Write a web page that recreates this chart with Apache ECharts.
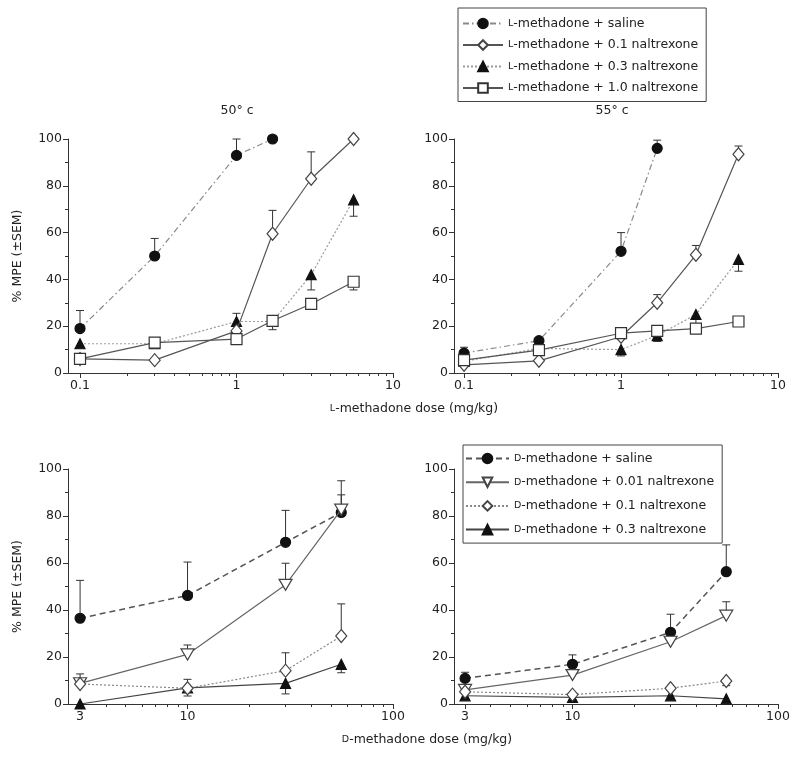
<!DOCTYPE html>
<html><head><meta charset="utf-8">
<script src="https://cdn.jsdelivr.net/npm/echarts@6/dist/echarts.min.js"></script>
<style>html,body{margin:0;padding:0;background:#fff}#c{width:800px;height:757px}</style>
</head><body><div id="c"></div>
<script>
// ---------- data ----------
const lDoses = [0.1, 0.3, 1, 1.7, 3, 5.6];
const dDoses = [3, 10, 30, 56];
const lTicks = [0.1, 1, 10];
const lMinorTicks = [0.2, 0.3, 0.4, 0.5, 0.6, 0.7, 0.8, 0.9, 2, 3, 4, 5, 6, 7, 8, 9];
const dTicks = [3, 10, 100];
const dMinorTicks = [4, 5, 6, 7, 8, 9, 20, 30, 40, 50, 60, 70, 80, 90];

const lNames = ['L-methadone + saline', 'L-methadone + 0.1 naltrexone', 'L-methadone + 0.3 naltrexone', 'L-methadone + 1.0 naltrexone'];
const dNames = ['D-methadone + saline', 'D-methadone + 0.01 naltrexone', 'D-methadone + 0.1 naltrexone', 'D-methadone + 0.3 naltrexone'];

// 50 °C (top left)
const l50Saline    = [19, 50, 93, 100];
const l50SalineErr = [26.7, 57.5, 100, null];
const l50Nal01     = [6, 5.5, 18, 59.5, 83, 100];
const l50Nal01Err  = [null, null, null, 69.5, 94.5, null];
const l50Nal03     = [12.5, 12.5, 22, 22, 42, 74];
const l50Nal03Err  = [null, null, 25.5, null, 35.5, 67];
const l50Nal10     = [6, 13, 14.5, 22.3, 29.5, 39];
const l50Nal10Err  = [null, 11, 12.5, 18.5, null, 35.5];

// 55 °C (top right)
const l55Saline    = [8.5, 13.8, 52, 96];
const l55SalineErr = [11, null, 60, 99.5];
const l55Nal01     = [3.5, 5.2, 15.5, 30, 50.5, 93.5];
const l55Nal01Err  = [null, null, null, 33.5, 54.5, 97];
const l55Nal03     = [5, 10.5, 10, 16, 25, 48.5];
const l55Nal03Err  = [null, null, 7.3, 13.5, 20, 43.5];
const l55Nal10     = [5.5, 9.8, 17, 18, 19, 22];
const l55Nal10Err  = [null, null, null, null, null, null];

// D-methadone, bottom left
const dASaline    = [36.5, 46.2, 68.8, 81.5];
const dASalineErr = [52.6, 60.4, 82.4, 89];
const dANal001    = [8.8, 21.1, 50.7, 82.7];
const dANal001Err = [12.8, 25.1, 59.9, 95];
const dANal01     = [8.5, 6.7, 14.2, 28.9];
const dANal01Err  = [null, 10.5, 21.8, 42.6];
const dANal03     = [0, 6.9, 8.8, 16.9];
const dANal03Err  = [null, 3.4, 4.3, 13.3];

// D-methadone, bottom right
const dBSaline    = [10.9, 16.9, 30.5, 56.3];
const dBSalineErr = [13.5, 20.9, 38.2, 67.7];
const dBNal001    = [6, 12.3, 26.5, 37.6];
const dBNal001Err = [7.4, null, null, 43.5];
const dBNal01     = [5.2, 4, 6.7, 9.8];
const dBNal01Err  = [null, null, null, 7.8];
const dBNal03     = [3.5, 2.8, 3.5, 2.2];
const dBNal03Err  = [null, null, null, null];

// ---------- styles ----------
const FONT = 'DejaVu Sans';
const TXT = '#222';
const lStyles = [
  {symbol: 'circle', symbolSize: 10, fill: '#111', border: '#111', line: '#8a8a8a', type: [6, 3, 1.5, 3], width: 1.2},
  {symbol: 'diamond', symbolSize: [11, 13], fill: '#fff', border: '#444', line: '#555', type: 'solid', width: 1.2},
  {symbol: 'triangle', symbolSize: 10, fill: '#111', border: '#111', line: '#9a9a9a', type: [2, 2], width: 1.2},
  {symbol: 'rect', symbolSize: 11, fill: '#fff', border: '#333', line: '#555', type: 'solid', width: 1.2}
];
const dStyles = [
  {symbol: 'circle', symbolSize: 10, fill: '#111', border: '#111', line: '#555', type: [6, 4], width: 1.5},
  {symbol: 'triangle', symbolSize: [13, 11], rotate: 180, fill: '#fff', border: '#444', line: '#666', type: 'solid', width: 1.2},
  {symbol: 'diamond', symbolSize: [11, 13], fill: '#fff', border: '#444', line: '#888', type: [2, 2], width: 1.2},
  {symbol: 'triangle', symbolSize: 10, fill: '#111', border: '#111', line: '#444', type: 'solid', width: 1.2}
];

const grids = [
  {left: 68, top: 139, width: 325, height: 234},
  {left: 454, top: 139, width: 324, height: 234},
  {left: 68, top: 469, width: 325, height: 235},
  {left: 454, top: 469, width: 324, height: 235}
];
const xMin = [0.0838, 0.0863, 2.62, 2.65];
const xMax = [10, 10, 100, 100];

function fmt(v) { return String(+(+v).toPrecision(3)); }

const xAxes = [], yAxes = [];
grids.forEach((g, gi) => {
  const top = gi < 2;
  xAxes.push({
    type: 'log', logBase: 10, gridIndex: gi, position: 'bottom', min: xMin[gi], max: xMax[gi],
    axisLine: {show: true, onZero: false, lineStyle: {color: '#333', width: 1}},
    axisTick: {show: true, length: 5, inside: false, customValues: top ? lTicks : dTicks, lineStyle: {color: '#333'}},
    axisLabel: {show: true, customValues: top ? lTicks : dTicks, formatter: fmt, fontSize: 12.5, fontFamily: FONT, color: TXT, margin: 6},
    splitLine: {show: false}, minorTick: {show: false}, minorSplitLine: {show: false}
  });
  xAxes.push({
    type: 'log', logBase: 10, gridIndex: gi, position: 'bottom', min: xMin[gi], max: xMax[gi],
    axisLine: {show: false, onZero: false},
    axisTick: {show: true, length: 3, customValues: top ? lMinorTicks : dMinorTicks, lineStyle: {color: '#333'}},
    axisLabel: {show: false},
    splitLine: {show: false}
  });
  const left = gi % 2 === 0;
  yAxes.push({
    type: 'value', gridIndex: gi, min: 0, max: 100, interval: 20,
    name: left ? '% MPE (±SEM)' : '', nameLocation: 'middle', nameGap: 44, nameRotate: 90,
    nameTextStyle: {fontSize: 12.5, fontFamily: FONT, color: TXT},
    axisLine: {show: true, lineStyle: {color: '#333', width: 1}},
    axisTick: {show: true, length: 5, lineStyle: {color: '#333'}},
    minorTick: {show: true, splitNumber: 2, length: 3, lineStyle: {color: '#333'}},
    axisLabel: {fontSize: 12.5, fontFamily: FONT, color: TXT, margin: 6},
    splitLine: {show: false}, minorSplitLine: {show: false}
  });
});

function errRender(params, api) {
  const x = api.value(0), v = api.value(1), e = api.value(2);
  const p0 = api.coord([x, v]), p1 = api.coord([x, e]);
  const cap = 4;
  return {type: 'group', children: [
    {type: 'line', shape: {x1: p0[0], y1: p0[1], x2: p1[0], y2: p1[1]}, style: {stroke: '#333', lineWidth: 1}},
    {type: 'line', shape: {x1: p1[0] - cap, y1: p1[1], x2: p1[0] + cap, y2: p1[1]}, style: {stroke: '#333', lineWidth: 1}}
  ]};
}

const series = [];
function addSeries(gi, name, st, doses, vals, errs) {
  const xi = gi * 2, yi = gi;
  const errData = [];
  vals.forEach((v, i) => { if (errs[i] != null) errData.push([doses[i], v, errs[i]]); });
  if (errData.length) {
    series.push({
      type: 'custom', name: name + ' SEM', xAxisIndex: xi, yAxisIndex: yi, z: 1, silent: true,
      renderItem: errRender, encode: {x: 0, y: [1, 2]}, data: errData, clip: false
    });
  }
  series.push({
    type: 'line', name: name, xAxisIndex: xi, yAxisIndex: yi, z: 3 + (st.fill === '#fff' ? 1 : 0),
    data: vals.map((v, i) => [doses[i], v]),
    symbol: st.symbol, symbolSize: st.symbolSize, symbolRotate: st.rotate || 0, showAllSymbol: true,
    itemStyle: {color: st.fill, borderColor: st.border, borderWidth: 1.2},
    lineStyle: {color: st.line, type: st.type, width: st.width},
    clip: false, silent: true
  });
}

addSeries(0, lNames[0], lStyles[0], lDoses, l50Saline, l50SalineErr);
addSeries(0, lNames[1], lStyles[1], lDoses, l50Nal01, l50Nal01Err);
addSeries(0, lNames[2], lStyles[2], lDoses, l50Nal03, l50Nal03Err);
addSeries(0, lNames[3], lStyles[3], lDoses, l50Nal10, l50Nal10Err);

addSeries(1, lNames[0], lStyles[0], lDoses, l55Saline, l55SalineErr);
addSeries(1, lNames[1], lStyles[1], lDoses, l55Nal01, l55Nal01Err);
addSeries(1, lNames[2], lStyles[2], lDoses, l55Nal03, l55Nal03Err);
addSeries(1, lNames[3], lStyles[3], lDoses, l55Nal10, l55Nal10Err);

addSeries(2, dNames[0], dStyles[0], dDoses, dASaline, dASalineErr);
addSeries(2, dNames[1], dStyles[1], dDoses, dANal001, dANal001Err);
addSeries(2, dNames[2], dStyles[2], dDoses, dANal01, dANal01Err);
addSeries(2, dNames[3], dStyles[3], dDoses, dANal03, dANal03Err);

addSeries(3, dNames[0], dStyles[0], dDoses, dBSaline, dBSalineErr);
addSeries(3, dNames[1], dStyles[1], dDoses, dBNal001, dBNal001Err);
addSeries(3, dNames[2], dStyles[2], dDoses, dBNal01, dBNal01Err);
addSeries(3, dNames[3], dStyles[3], dDoses, dBNal03, dBNal03Err);

const scRich = {sc: {fontSize: 9.5, fontFamily: FONT, color: TXT}};
function scFmt(name) { return '{sc|' + name.charAt(0) + '}' + name.slice(1); }

const legendBase = {
  orient: 'vertical', backgroundColor: '#fff', borderColor: '#444', borderWidth: 1,
  itemWidth: 40, itemHeight: 12, formatter: scFmt,
  textStyle: {fontSize: 12.5, fontFamily: FONT, color: TXT, rich: scRich},
  inactiveColor: '#ccc', selectedMode: false
};

const option = {
  animation: false,
  backgroundColor: '#fff',
  grid: grids,
  xAxis: xAxes,
  yAxis: yAxes,
  legend: [
    Object.assign({}, legendBase, {data: lNames, left: 458, top: 8, itemGap: 8.5, padding: [9, 8, 7, 4]}),
    Object.assign({}, legendBase, {data: dNames, left: 463, top: 445, itemWidth: 43, itemGap: 10.7, padding: [7, 8, 7, 2]})
  ],
  graphic: [
    {type: 'text', style: {x: 237, y: 111, text: '50° c', align: 'center', verticalAlign: 'middle', fontSize: 12.5, fontFamily: FONT, fill: TXT}},
    {type: 'text', style: {x: 612, y: 111, text: '55° c', align: 'center', verticalAlign: 'middle', fontSize: 12.5, fontFamily: FONT, fill: TXT}},
    {type: 'text', style: {x: 414, y: 409, text: '{sc|L}-methadone dose (mg/kg)', rich: scRich, align: 'center', verticalAlign: 'middle', fontSize: 12.5, fontFamily: FONT, fill: TXT}},
    {type: 'text', style: {x: 427, y: 740, text: '{sc|D}-methadone dose (mg/kg)', rich: scRich, align: 'center', verticalAlign: 'middle', fontSize: 12.5, fontFamily: FONT, fill: TXT}}
  ],
  series: series
};

const chart = echarts.init(document.getElementById('c'), null, {renderer: 'canvas'});
chart.setOption(option);
</script>
</body></html>
